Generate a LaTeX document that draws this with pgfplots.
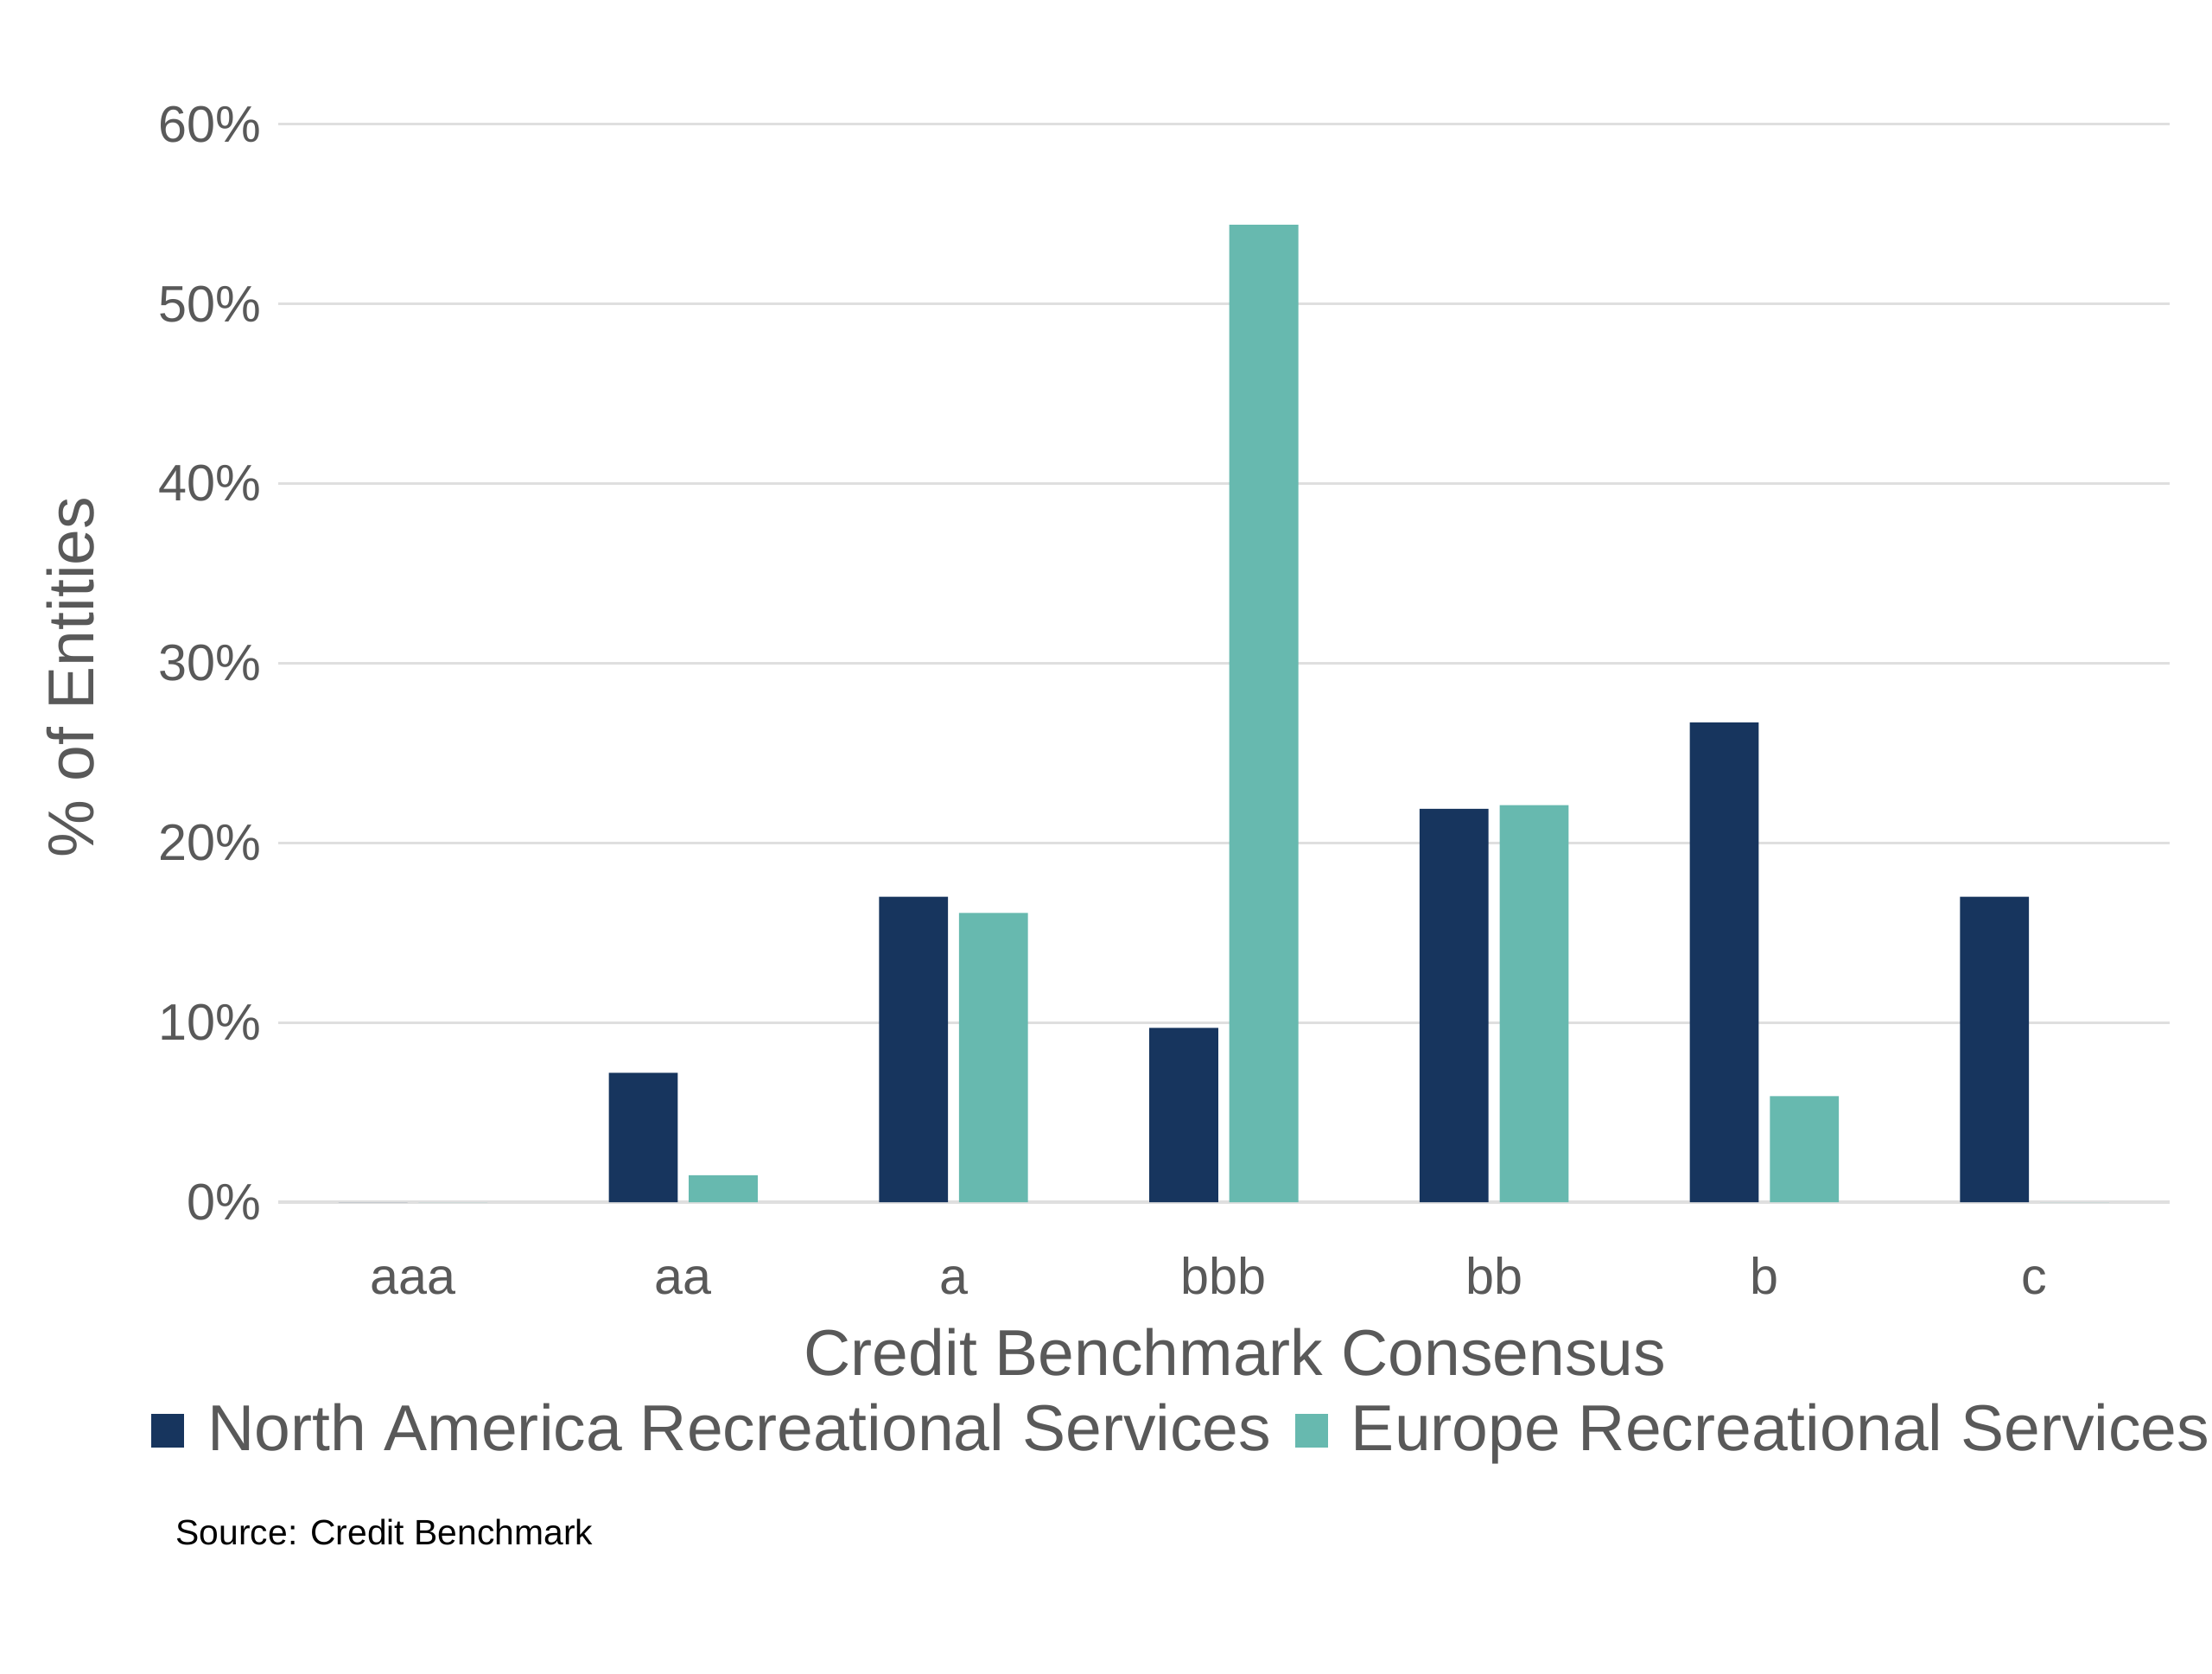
\documentclass[border=0pt]{standalone}
\usepackage{pgfplots}
\pgfplotsset{compat=1.18}
\usepackage{fontspec}
\setmainfont{Liberation Sans}
\definecolor{navy}{HTML}{17355E}
\definecolor{teal2}{HTML}{67B9AF}
\definecolor{txt}{HTML}{595959}
\begin{document}
\begin{tikzpicture}
\path[use as bounding box] (0,0) rectangle (470.4pt,-355.8pt);
\begin{axis}[at={(59.1pt,-255.6pt)}, anchor=south west,
  scale only axis, width=402.3pt, height=229.2pt,
  xmin=-0.5, xmax=6.5, ymin=0, ymax=60,
  axis line style={draw=none}, major tick length=0pt,
  ymajorgrids, grid style={draw=gray!25, line width=0.6pt},
  ytick={0,10,...,60}, yticklabel={\pgfmathprintnumber{\tick}\%},
  /pgf/number format/assume math mode=true,
  xtick={0,...,6}, xticklabels={aaa,aa,a,bbb,bb,b,c},
  ticklabel style={font=\fontsize{10.9}{12}\selectfont, text=txt},
  xticklabel style={anchor=base, yshift=-19.5pt},
  ybar=0pt, bar width=0.255,
  xlabel={Credit Benchmark Consensus}, ylabel={\% of Entities},
  label style={font=\fontsize{13.8}{16}\selectfont, text=txt},
  xlabel style={at={(rel axis cs:0.506,-0.139)}, anchor=center},
  ylabel style={at={(rel axis cs:-0.1096,0.487)}, anchor=center},
  legend columns=2,
  legend style={at={(rel axis cs:-0.075,-0.212)}, anchor=west, draw=none, fill=none,
    font=\fontsize{13.8}{16}\selectfont, text=txt, column sep=3pt},
  legend image code/.code={\fill[#1] (0pt,-3.5pt) rectangle (7pt,3.5pt);},
]
\addplot[fill=navy, draw=none, bar shift=-0.148] coordinates {(0,0) (1,7.2) (2,17.0) (3,9.7) (4,21.9) (5,26.7) (6,17.0)};
\addplot[fill=teal2, draw=none, bar shift=0.148] coordinates {(0,0) (1,1.5) (2,16.1) (3,54.4) (4,22.1) (5,5.9) (6,0)};
\legend{North America Recreational Services, Europe Recreational Services}
\end{axis}
\node[anchor=west, font=\fontsize{7.5}{9}\selectfont] at (33.9pt,-325.8pt) {Source: Credit Benchmark};
\end{tikzpicture}
\end{document}
